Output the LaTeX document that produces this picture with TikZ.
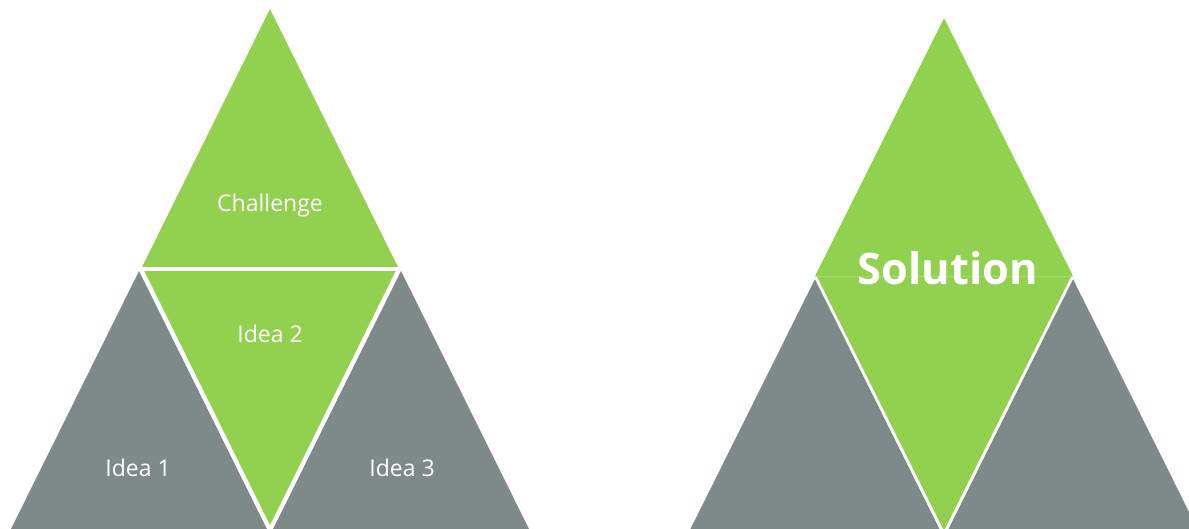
\documentclass[tikz,border=0pt]{standalone}
\usepackage{fontspec}
\setmainfont{Open Sans}
\definecolor{leaf}{HTML}{92D050}
\definecolor{leaflight}{HTML}{A6DA72}
\definecolor{slate}{HTML}{7E8A89}
\begin{document}
\begin{tikzpicture}[x=1pt,y=-1pt,
  greenfill/.style={fill=leaf},
  grayfill/.style={fill=slate},
  sep/.style={draw=white,line width=4pt,line cap=round},
  septhin/.style={draw=white,line width=2.6pt,line cap=round},
  lbl/.style={text=white,font=\fontsize{23}{28}\selectfont,anchor=base,inner sep=0pt},
  big/.style={text=white,font=\bfseries\fontsize{43.5}{52}\selectfont,anchor=base,inner sep=0pt}]
\useasboundingbox (0,0) rectangle (1189,529);
\clip (0,0) rectangle (1189,529);
% ---- left pyramid ----
\coordinate (tA) at (270,9);
\coordinate (tL) at (141,269);
\coordinate (tR) at (399,269);
\coordinate (tB) at (270,530);
\fill[grayfill] (10,531) -- (268,531) -- (139,271) -- cycle;
\fill[grayfill] (272,531) -- (530,531) -- (401,271) -- cycle;
\fill[greenfill] (tL) -- (tR) -- (tA) -- cycle;
\fill[greenfill] (tL) -- (tR) -- (tB) -- cycle;
\draw[sep] (tL) -- (tR);
\draw[sep] (tL) -- (tB);
\draw[sep] (tR) -- (tB);
\node[lbl] (challenge) at (270,212) {Challenge};
\node[lbl] (idea2) at (270,343) {Idea 2};
\node[lbl] (idea1) at (138,476) {Idea 1};
\node[lbl] (idea3) at (402,476) {Idea 3};
% ---- right pyramid ----
\coordinate (dT) at (944,18);
\coordinate (dL) at (815,276);
\coordinate (dR) at (1073,276);
\coordinate (dB) at (944,534);
\fill[grayfill] (686,538) -- (944,538) -- (815,279) -- cycle;
\fill[grayfill] (944,538) -- (1202,538) -- (1073,279) -- cycle;
\fill[greenfill] (dT) -- (dL) -- (dB) -- (dR) -- cycle;
\draw[septhin] (dL) -- (dB);
\draw[septhin] (dR) -- (dB);
\draw[leaflight,line width=0.8pt] (dL) -- (dR);
\node[big] (solution) at (948,285) {Solution};
\end{tikzpicture}
\end{document}
